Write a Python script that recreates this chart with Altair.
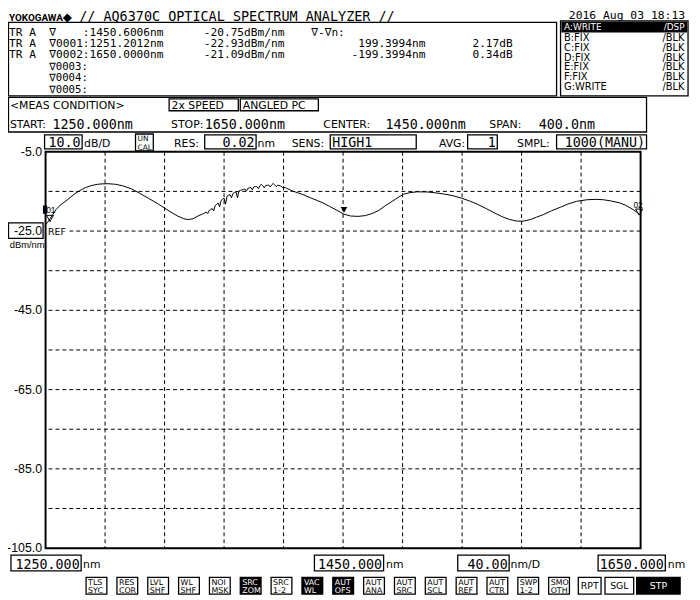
import altair as alt
import pandas as pd

# ---------------- data ----------------
wl_a = [1250.0, 1251.2, 1253, 1255, 1257, 1260, 1263.7, 1267, 1270.4, 1274, 1277, 1281, 1285, 1288,
        1292, 1297, 1302, 1308, 1313, 1319, 1325, 1330, 1335, 1339, 1343, 1346, 1349, 1352]
lv_a = [-23.3, -22.93, -21.9, -20.8, -19.6, -18.4, -17.4, -16.4, -15.4, -14.6, -14.0, -13.5, -13.2, -13.1,
        -13.05, -13.2, -13.6, -14.4, -15.4, -16.7, -18.0, -19.2, -20.4, -21.25, -21.9, -22.1, -21.9, -21.3]
wl_b = list(range(1356, 1413))
lv_b = [-20.6, -20.4, -20.2, -20.6, -19.8, -19.6, -19.3, -19.9, -18.6, -18.3,
        -17.9, -18.9, -17.3, -17.0, -16.7, -18.2, -16.2, -16.0, -15.8, -16.6,
        -15.5, -15.3, -15.1, -16.6, -14.9, -14.75, -14.6, -14.5, -14.4, -14.9,
        -14.2, -14.1, -14.0, -14.6, -13.85, -13.8, -13.75, -14.3, -13.65, -13.2,
        -13.55, -14.1, -13.5, -13.45, -13.4, -13.9, -13.35, -13.0, -13.35, -13.8,
        -13.45, -13.5, -13.6, -14.0, -13.9, -14.05, -14.2]
wl_c = [1416, 1420, 1423, 1428, 1432, 1436.5, 1441, 1446, 1450.6, 1455, 1460, 1465, 1470, 1474, 1478,
        1483, 1487, 1490.7, 1495, 1500, 1507, 1513, 1518.4, 1524, 1529.5, 1535, 1540.6, 1546, 1551.7,
        1557, 1562, 1567, 1571, 1576, 1580, 1585, 1590, 1596, 1601, 1607, 1614, 1620, 1625, 1630,
        1636, 1640, 1645, 1648, 1650]
lv_c = [-14.9, -15.4, -15.8, -16.6, -17.2, -17.9, -18.8, -19.8, -20.75, -21.2, -21.3, -21.1, -20.5,
        -19.8, -18.7, -17.5, -16.5, -15.7, -15.3, -15.1, -15.15, -15.4, -15.7, -16.1, -16.7, -17.4,
        -18.3, -19.3, -20.4, -21.4, -22.1, -22.5, -22.5, -22.1, -21.5, -20.8, -19.9, -19.0, -18.2,
        -17.5, -17.1, -17.0, -17.1, -17.4, -17.9, -18.5, -19.6, -20.4, -21.09]
wavelength_nm = wl_a + wl_b + wl_c
level_dbm = lv_a + lv_b + lv_c
assert len(wavelength_nm) == len(level_dbm)

marker_main_wl, marker_main_lv = [1450.6006], [-20.75]
marker01_wl, marker01_lv = [1251.2012], [-22.93]
marker02_wl, marker02_lv = [1650.0], [-21.09]

x_grid = list(range(1290, 1611, 40))
y_grid = list(range(-95, -14, 10))
y_label_vals = [-5, -45, -65, -85, -105, -25]
y_label_txt = ["-5.0", "-45.0", "-65.0", "-85.0", "-105.0", "-25.0"]

# marker read-out panel (NBSP keeps the fixed columns of the instrument screen)
S = "\u00a0"
readout_lines = [
    "TR" + S + "A" + S * 2 + "∇" + S * 4 + ":1450.6006nm" + S * 6 + "-20.75dBm/nm" + S * 4 + "∇-∇n:",
    "TR" + S + "A" + S * 2 + "∇0001:1251.2012nm" + S * 6 + "-22.93dBm/nm" + S * 11 + "199.3994nm" + S * 7 + "2.17dB",
    "TR" + S + "A" + S * 2 + "∇0002:1650.0000nm" + S * 6 + "-21.09dBm/nm" + S * 10 + "-199.3994nm" + S * 7 + "0.34dB",
]
spare_markers = ["∇0003:", "∇0004:", "∇0005:"]
trace_names = ["A:WRITE", "B:FIX", "C:FIX", "D:FIX", "E:FIX", "F:FIX", "G:WRITE"]
trace_modes = ["/DSP", "/BLK", "/BLK", "/BLK", "/BLK", "/BLK", "/BLK"]
small_buttons = [("TLS", "SYC"), ("RES", "COR"), ("LVL", "SHF"), ("WL", "SHF"), ("NOI", "MSK"),
                 ("SRC", "ZOM"), ("SRC", "1-2"), ("VAC", "WL"), ("AUT", "OFS"), ("AUT", "ANA"),
                 ("AUT", "SRC"), ("AUT", "SCL"), ("AUT", "REF"), ("AUT", "CTR"), ("SWP", "1-2"),
                 ("SMO", "OTH")]
dark_buttons = {5, 7, 8}

MONO = "DejaVu Sans Mono"
SANS = "DejaVu Sans"
NUMF = "Liberation Sans"
PX0, PY0 = 46, 150   # page position of the plot area's top-left corner

xs = alt.Scale(domain=[1250, 1650], nice=False, zero=False)
ys = alt.Scale(domain=[-105, -5], nice=False, zero=False)

# ---------------- grid + trace ----------------
vgrid = alt.Chart(pd.DataFrame({"wl": x_grid})).mark_rule(
    color="black", strokeWidth=1, strokeDash=[4, 3]).encode(x=alt.X("wl:Q", scale=xs, axis=None))
hgrid = alt.Chart(pd.DataFrame({"lv": y_grid})).mark_rule(
    color="black", strokeWidth=1, strokeDash=[4, 3]).encode(y=alt.Y("lv:Q", scale=ys, axis=None))

trace = pd.DataFrame({"wl": wavelength_nm, "lv": level_dbm})
line = alt.Chart(trace).mark_line(color="black", strokeWidth=1).encode(
    x=alt.X("wl:Q", scale=xs, axis=None),
    y=alt.Y("lv:Q", scale=ys, axis=None),
)

def pts(wl, lv, **kw):
    return alt.Chart(pd.DataFrame({"wl": wl, "lv": lv})).mark_point(color="black", **kw).encode(
        x=alt.X("wl:Q", scale=xs, axis=None), y=alt.Y("lv:Q", scale=ys, axis=None))

m_main = pts(marker_main_wl, marker_main_lv, shape="triangle-down", filled=True, size=45, opacity=1, yOffset=-4.5)
m01 = pts(marker01_wl, marker01_lv, shape="triangle-down", filled=False, size=50, strokeWidth=1, opacity=1,
          xOffset=2.7, yOffset=-4.5)
m02 = pts(marker02_wl, marker02_lv, shape="triangle-down", filled=False, size=50, strokeWidth=1, opacity=1,
          xOffset=-1.5, yOffset=-3.5)

def mtext(wl, lv, t, dx, dy):
    return alt.Chart(pd.DataFrame({"wl": wl, "lv": lv, "t": [t]})).mark_text(
        font=NUMF, fontSize=8.5, color="black", align="center", baseline="alphabetic", dx=dx, dy=dy).encode(
        x=alt.X("wl:Q", scale=xs, axis=None), y=alt.Y("lv:Q", scale=ys, axis=None), text="t:N")

t01 = mtext(marker01_wl, marker01_lv, "01", 3.5, -10)
t02 = mtext(marker02_wl, marker02_lv, "02", -2.5, -8)

ylabels = alt.Chart(pd.DataFrame({"v": y_label_vals, "t": y_label_txt})).mark_text(
    font=NUMF, fontSize=12.5, color="black", align="right", baseline="middle").encode(
    x=alt.value(42.5 - PX0), y=alt.Y("v:Q", scale=ys, axis=None), text="t:N")

# ---------------- screen furniture (page pixel coordinates) ----------------
boxes = [
    (8.5, 19, 563, 93.5, "transparent", "black"),
    (567, 17.5, 696, 93.5, "transparent", "black"),
    (568.5, 18.8, 694.5, 28.8, "black", "black"),
    (8.5, 95, 654, 130, "transparent", "black"),
    (171, 96.5, 241, 108.5, "transparent", "black"),
    (243, 96.5, 322, 108.5, "transparent", "black"),
    (45, 133, 83, 147, "transparent", "black"),
    (137, 132, 155, 149, "transparent", "black"),
    (207, 133, 259, 147, "transparent", "black"),
    (334, 133, 421, 147, "transparent", "black"),
    (473, 133, 503, 147, "transparent", "black"),
    (563, 133, 654, 147, "transparent", "black"),
    (8.5, 222, 43.5, 237.5, "transparent", "black"),
    (48, 225.5, 70, 235.5, "white", "transparent"),
    (44, 205, 47, 212, "black", "black"),
    (11, 558, 82, 574, "transparent", "black"),
    (318, 558, 388, 574, "transparent", "black"),
    (463, 558, 515, 574, "transparent", "black"),
    (605, 558, 673, 574, "transparent", "black"),
    (585, 580.5, 608, 597.5, "transparent", "black"),
    (612, 580.5, 641, 597.5, "transparent", "black"),
    (644, 580.5, 688, 597.5, "black", "black"),
]

RS, RLH, RX = 11.3, 11.4, 9      # read-out font size, line height, left edge
SS, SLH = 10.8, 11.8             # spare marker lines
mono_left = [
    ("// AQ6370C OPTICAL SPECTRUM ANALYZER //", 80, 17.2, 13.6, "black"),
    ("1250.000nm", 53, 126.5, 13.5, "black"),
    ("1650.000nm", 207, 126.5, 13.5, "black"),
    ("1450.000nm", 390, 126.5, 13.5, "black"),
    ("400.0nm", 545, 126.5, 13.5, "black"),
    ("HIGH1", 336, 145.5, 13.5, "black"),
]
readout = [("\n".join(readout_lines), RX, 32.5, RS, "black")]
spare = [("\n".join(spare_markers), RX + 6 * 0.6021 * RS, 66.9, SS, "black")]
mono_right = [
    ("2016 Aug 03 18:13", 693, 15.5, 11.5, "black"),
    ("10.0", 81.5, 145.5, 13.5, "black"),
    ("0.02", 257.5, 145.5, 13.5, "black"),
    ("1", 501.5, 145.5, 13.5, "black"),
    ("1000(MANU)", 652.5, 145.5, 13.5, "black"),
    ("1250.000", 80.5, 572, 13.5, "black"),
    ("1450.000", 386.5, 572, 13.5, "black"),
    ("40.00", 513.5, 572, 13.5, "black"),
    ("1650.000", 671.5, 572, 13.5, "black"),
]
sans_left = [
    ("<MEAS CONDITION>", 10, 107, 11, "black"),
    ("2x SPEED", 173.5, 106.5, 11, "black"),
    ("ANGLED PC", 245.5, 106.5, 11, "black"),
    ("START:", 10, 126, 11, "black"),
    ("STOP:", 173, 126, 11, "black"),
    ("CENTER:", 327, 126, 11, "black"),
    ("SPAN:", 495, 126, 11, "black"),
    ("dB/D", 85, 145, 11, "black"),
    ("RES:", 176, 145, 11, "black"),
    ("nm", 260.5, 145, 11, "black"),
    ("SENS:", 295, 145, 11, "black"),
    ("AVG:", 444, 145, 11, "black"),
    ("SMPL:", 523, 145, 11, "black"),
    ("REF", 48.5, 234.5, 9.5, "black"),
    ("nm", 84, 571.5, 11, "black"),
    ("nm", 390.5, 571.5, 11, "black"),
    ("nm/D", 516.5, 571.5, 11, "black"),
    ("nm", 675.5, 571.5, 11, "black"),
    (trace_names[0], 570.5, 26.5, 9, "white"),
]
sans_right = [(trace_modes[0], 692.5, 26.5, 9, "white")]
trace_left_multi = [("\n".join(trace_names[1:]), 570.5, 38, 10, "black")]
trace_right_multi = [("\n".join(trace_modes[1:]), 692.5, 38, 10, "black")]
narrow_right = [("dBm/nm", 45, 247, 9.5, "black")]
sans_center = [
    ("RPT", 596.5, 592.5, 9.5, "black"),
    ("SGL", 626.5, 592.5, 9.5, "black"),
    ("STP", 666, 592.5, 9.5, "white"),
]
button_text = [("UN\nCAL", 139, 139.5, 7.5, "black")]
for i, (a, b) in enumerate(small_buttons):
    x0 = 87 + 31.2 * i
    dark = i in dark_buttons
    boxes.append((x0, 580.5, x0 + 21, 597.5, "black" if dark else "transparent", "black"))
    button_text.append((a + "\n" + b, x0 + 2, 587.8, 8, "white" if dark else "black"))

bdf = pd.DataFrame(boxes, columns=["x1", "y1", "x2", "y2", "fill", "stroke"])
bdf["x1"] -= PX0; bdf["x2"] -= PX0; bdf["y1"] -= PY0; bdf["y2"] -= PY0
rects = alt.Chart(bdf).mark_rect(strokeWidth=1.3).encode(
    x=alt.X("x1:Q", scale=None, axis=None), x2="x2:Q",
    y=alt.Y("y1:Q", scale=None, axis=None), y2="y2:Q",
    fill=alt.Fill("fill:N", scale=None), stroke=alt.Stroke("stroke:N", scale=None))

def text_layer(rows, font, align, weight="normal", lh=None):
    df = pd.DataFrame(rows, columns=["t", "px", "py", "fs", "col"])
    df["x"] = df["px"] - PX0
    df["y"] = df["py"] - PY0
    kw = dict(font=font, align=align, baseline="alphabetic", fontWeight=weight)
    if lh is not None:
        kw.update(lineBreak="\n", lineHeight=lh)
    return alt.Chart(df).mark_text(**kw).encode(
        x=alt.X("x:Q", scale=None, axis=None), y=alt.Y("y:Q", scale=None, axis=None),
        text="t:N", size=alt.Size("fs:Q", scale=None), color=alt.Color("col:N", scale=None))

logo = text_layer([("YOKOGAWA", 9, 17.2, 10, "black")], "Roboto", "left", "bold")
diamond = text_layer([("◆", 63.5, 17.2, 12, "black")], SANS, "left")

chart = alt.layer(
    vgrid, hgrid, line, rects, m_main, m01, m02, t01, t02, ylabels,
    text_layer(mono_left, MONO, "left"),
    text_layer(readout, MONO, "left", lh=RLH),
    text_layer(spare, MONO, "left", lh=SLH),
    text_layer(mono_right, MONO, "right"),
    text_layer(sans_left, SANS, "left"),
    text_layer(sans_right, SANS, "right"),
    text_layer(trace_left_multi, SANS, "left", lh=9.85),
    text_layer(trace_right_multi, SANS, "right", lh=9.85),
    text_layer(narrow_right, NUMF, "right"),
    text_layer(sans_center, SANS, "center"),
    text_layer(button_text, SANS, "left", lh=8.3),
    logo, diamond,
).properties(
    width=602, height=401, autosize="none", background="white",
    padding={"left": 38, "top": 142, "right": 52, "bottom": 49},
).configure_view(stroke="black", strokeWidth=2)

chart.save("out.html", embed_options={"renderer": "svg", "actions": False})
